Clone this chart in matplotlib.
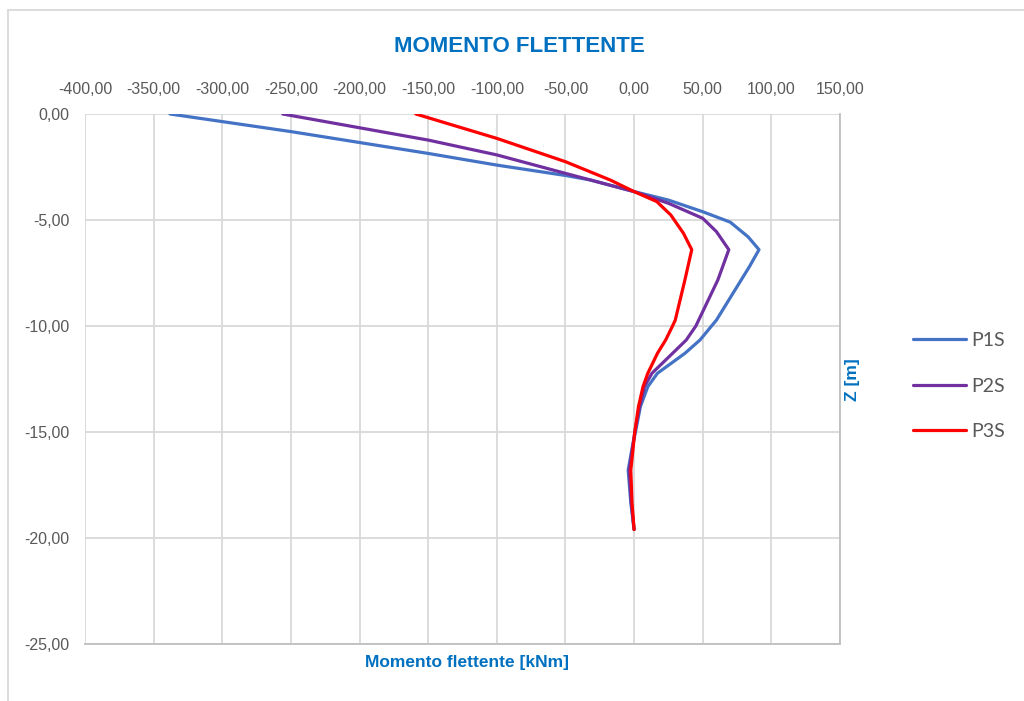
import matplotlib
matplotlib.use("Agg")
import matplotlib.pyplot as plt
from matplotlib.patches import Rectangle
from matplotlib.ticker import FuncFormatter, MultipleLocator

# depth [m] and bending moment [kNm]
z_p1 = [0.0, -0.83, -1.86, -2.41, -2.90, -3.11, -3.66, -4.06, -4.61, -5.10,
        -5.79, -6.40, -7.20, -7.83, -9.72, -10.66, -11.29, -12.23, -12.86,
        -13.8, -15.0, -15.85, -16.8, -18.35, -19.6]
m_p1 = [-338, -250, -150, -100, -50, -32, 0, 25, 50, 70,
        83, 91, 84, 78, 60, 48, 37, 17, 10,
        4.6, 1, -1.7, -4.3, -2.4, 0]

z_p2 = [0.0, -1.23, -1.93, -2.80, -3.66, -4.21, -4.92, -5.55, -6.40, -7.83,
        -10.0, -10.66, -11.29, -12.23, -12.86, -13.8, -15.0, -16.8, -18.35, -19.6]
m_p2 = [-256, -150, -100, -50, 0, 25, 50, 60, 69, 61,
        45, 38, 28, 13, 7.5, 4, 0.5, -3.5, -2, 0]

z_p3 = [0.0, -1.15, -2.25, -3.11, -3.66, -4.13, -4.76, -5.63, -6.40, -7.83,
        -9.72, -10.0, -10.66, -11.29, -12.23, -12.86, -13.8, -15.0, -16.8,
        -18.35, -19.6]
m_p3 = [-159, -100, -50, -17.5, 0, 16.5, 26.7, 36, 42, 37,
        30, 28, 23, 17, 10, 6.5, 3.2, 0.5, -2.4,
        -1.5, 0]

series = [("P1S", m_p1, z_p1, "#4472C4"),
          ("P2S", m_p2, z_p2, "#7030A0"),
          ("P3S", m_p3, z_p3, "#FF0000")]

narrow = ["Liberation Sans Narrow", "Liberation Sans", "DejaVu Sans"]
blue_txt = "#0070C0"
grey_txt = "#595959"

fig = plt.figure(figsize=(10.24, 7.01), dpi=100)
ax = fig.add_axes([85 / 1024, 1 - 644 / 701, 755 / 1024, 530 / 701])

for name, m, z, col in series:
    ax.plot(m, z, color=col, lw=2.3, label=name, solid_capstyle="round",
            solid_joinstyle="round", zorder=3)

ax.set_xlim(-400, 150)
ax.set_ylim(-25, 0)
ax.xaxis.set_major_locator(MultipleLocator(50))
ax.yaxis.set_major_locator(MultipleLocator(5))
fmt = FuncFormatter(lambda v, p: f"{v:.2f}".replace(".", ",").replace("-0,00", "0,00"))
ax.xaxis.set_major_formatter(fmt)
ax.yaxis.set_major_formatter(fmt)
ax.xaxis.tick_top()
ax.tick_params(axis="both", length=0, labelcolor=grey_txt, labelsize=11.5)
ax.tick_params(axis="x", pad=12)
ax.tick_params(axis="y", pad=11)
for lab in ax.get_xticklabels() + ax.get_yticklabels():
    lab.set_family(narrow)

ax.grid(True, color="#D9D9D9", lw=1.3, zorder=0)
ax.set_axisbelow(True)
for s in ["left", "top"]:
    ax.spines[s].set_visible(False)
for s in ["right", "bottom"]:
    ax.spines[s].set_color("#BFBFBF")
    ax.spines[s].set_linewidth(1.3)

fig.text(519 / 1024, 1 - 47 / 701, "MOMENTO FLETTENTE", ha="center", va="center",
         color=blue_txt, fontsize=16, fontweight="bold", family=narrow)
fig.text(467 / 1024, 1 - 662 / 701, "Momento flettente [kNm]", ha="center", va="center",
         color=blue_txt, fontsize=12.5, fontweight="bold", family=narrow)
fig.text(853 / 1024, 1 - 380 / 701, "Z [m]", ha="center", va="center", rotation=90,
         color=blue_txt, fontsize=12.5, fontweight="bold", family=narrow)

fig.legend(loc="center left", bbox_to_anchor=(895 / 1024, 1 - 386 / 701),
           frameon=False, handlelength=2.73, handletextpad=0.28, labelspacing=1.46,
           prop={"family": ["Lato", "DejaVu Sans"], "size": 14}, labelcolor=grey_txt)

# chart area border (cropped at right and bottom)
fig.patches.append(Rectangle((7.5 / 1024, -0.05), 1.2, 1.05 - 10 / 701, fill=False,
                             edgecolor="#D9D9D9", lw=1.3, transform=fig.transFigure))

fig.savefig("out.png", dpi=100)
